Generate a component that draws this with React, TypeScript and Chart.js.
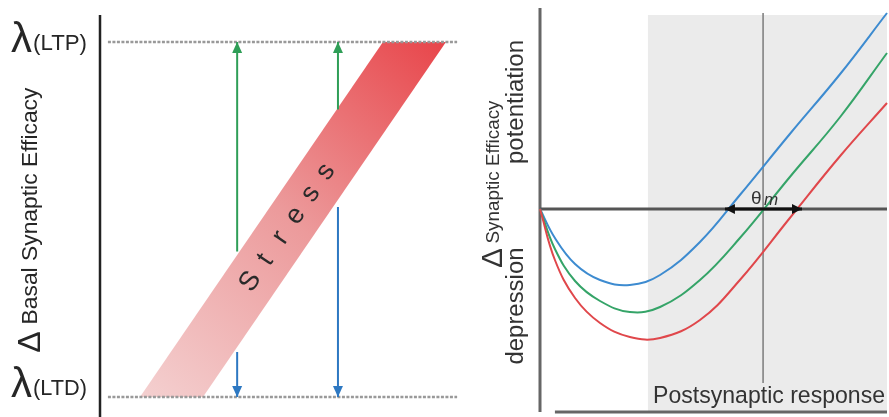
import React, { useEffect, useRef } from "react";
import { Chart, registerables } from "chart.js";
Chart.register(...registerables);

const FONT = "'Liberation Sans', Arial, sans-serif";

// ---------- Left panel data ----------
const LEVEL_VALUES = [1, 0]; // λ(LTP), λ(LTD)
const LEVEL_NAMES = ["(LTP)", "(LTD)"];
const DOTTED_X = [0.22, 9.92];
const BAND_BOTTOM_X = [1.11, 2.86];
const BAND_TOP_X = [7.86, 9.61];
const ARROW_X = [3.81, 6.61];
const GREEN_FROM = [0.41, 0.81];
const BLUE_FROM = [0.127, 0.535];
const STRESS_TEXT = "Stress";
const LEFT_TITLE = "Basal Synaptic Efficacy";

// ---------- Right panel data ----------
const CURVE_X = [0, 0.43, 1.01, 1.73, 2.59, 3.46, 4.61, 5.76, 7.2, 8.65, 10];
const BLUE_Y = [0, -0.29, -0.55, -0.71, -0.76, -0.66, -0.33, 0.14, 0.75, 1.35, 1.96];
const GREEN_Y = [0, -0.4, -0.72, -0.92, -1.03, -0.98, -0.71, -0.29, 0.32, 0.92, 1.56];
const RED_Y = [0, -0.51, -0.89, -1.14, -1.28, -1.29, -1.11, -0.71, -0.09, 0.53, 1.06];
const SHADE_RANGE = [3.11, 10];
const SHADE_TOP = 1.94;
const THETA_M = 6.43;
const THETA_LINE_Y = [1.96, -1.74];
const THETA_ARROW_X = [5.33, 7.55];
const BOTTOM_LINE_X = [0.43, 10];
const RIGHT_TITLE = "Synaptic Efficacy";
const UP_LABEL = "potentiation";
const DOWN_LABEL = "depression";
const X_LABEL = "Postsynaptic response";

const pts = (xs: number[], ys: number[]) => xs.map((x, i) => ({ x, y: ys[i] }));

function fitSize(ctx: CanvasRenderingContext2D, text: string, width: number, style = "") {
  ctx.font = `${style ? style + " " : ""}100px ${FONT}`;
  return (100 * width) / ctx.measureText(text).width;
}

function drawArrowHead(ctx: CanvasRenderingContext2D, tip: any, from: any, color: string, len: number, half: number) {
  const a = Math.atan2(tip.y - from.y, tip.x - from.x);
  ctx.save();
  ctx.translate(tip.x, tip.y);
  ctx.rotate(a);
  ctx.fillStyle = color;
  ctx.beginPath();
  ctx.moveTo(0, 0);
  ctx.lineTo(-len, -half);
  ctx.lineTo(-len, half);
  ctx.closePath();
  ctx.fill();
  ctx.restore();
}

const arrowPlugin = {
  id: "arrowHeads",
  afterDatasetsDraw(chart: any) {
    const ctx = chart.ctx;
    chart.data.datasets.forEach((ds: any, i: number) => {
      const m = chart.getDatasetMeta(i).data;
      if (!m || m.length < 2) return;
      if (ds.arrowEnd) drawArrowHead(ctx, m[m.length - 1], m[m.length - 2], ds.borderColor, ds.arrowLen, ds.arrowHalf);
      if (ds.arrowStart) drawArrowHead(ctx, m[0], m[1], ds.borderColor, ds.arrowLen, ds.arrowHalf);
    });
  },
};

function rotatedText(ctx: CanvasRenderingContext2D, text: string, cy: number, baseX: number, size: number) {
  ctx.save();
  ctx.translate(baseX, cy);
  ctx.rotate(-Math.PI / 2);
  ctx.font = `${size}px ${FONT}`;
  ctx.textAlign = "center";
  ctx.textBaseline = "alphabetic";
  ctx.fillText(text, 0, 0);
  ctx.restore();
}

const leftText = {
  id: "leftText",
  afterDraw(chart: any) {
    const ctx: CanvasRenderingContext2D = chart.ctx;
    const xs = chart.scales.x;
    const ys = chart.scales.y;
    ctx.save();
    ctx.fillStyle = "#262626";
    // λ labels
    LEVEL_VALUES.forEach((v, i) => {
      const base = ys.getPixelForValue(v) + (i === 0 ? 8 : -2);
      ctx.textAlign = "left";
      ctx.textBaseline = "alphabetic";
      ctx.font = `${fitSize(ctx, "λ", 21)}px ${FONT}`;
      ctx.fillText("λ", 11, base + 2);
      ctx.font = `${fitSize(ctx, LEVEL_NAMES[i], 54)}px ${FONT}`;
      ctx.fillText(LEVEL_NAMES[i], 33, base);
    });
    // y title
    rotatedText(ctx, LEFT_TITLE, 206, 37, fitSize(ctx, LEFT_TITLE, 237));
    rotatedText(ctx, "Δ", 342, 40, 32);
    // Stress text along band
    const p0x = xs.getPixelForValue((BAND_BOTTOM_X[0] + BAND_BOTTOM_X[1]) / 2);
    const p0y = ys.getPixelForValue(0);
    const p1x = xs.getPixelForValue((BAND_TOP_X[0] + BAND_TOP_X[1]) / 2);
    const p1y = ys.getPixelForValue(1);
    const ang = Math.atan2(p1y - p0y, p1x - p0x);
    const t = 0.48;
    const cx = p0x + (p1x - p0x) * t;
    const cy = p0y + (p1y - p0y) * t;
    const step = 26.6;
    ctx.fillStyle = "#2a2a2a";
    ctx.font = `27px ${FONT}`;
    ctx.textAlign = "center";
    ctx.textBaseline = "middle";
    const n = STRESS_TEXT.length;
    for (let k = 0; k < n; k++) {
      const d = (k - (n - 1) / 2) * step;
      ctx.save();
      ctx.translate(cx + Math.cos(ang) * d, cy + Math.sin(ang) * d);
      ctx.rotate(ang);
      ctx.fillText(STRESS_TEXT[k], 0, 0);
      ctx.restore();
    }
    ctx.restore();
  },
};

const rightDecor = {
  id: "rightDecor",
  beforeDatasetsDraw(chart: any) {
    const ctx: CanvasRenderingContext2D = chart.ctx;
    const xs = chart.scales.x;
    const ys = chart.scales.y;
    const x0 = xs.getPixelForValue(SHADE_RANGE[0]);
    const x1 = xs.getPixelForValue(SHADE_RANGE[1]);
    const y0 = ys.getPixelForValue(SHADE_TOP);
    const y1 = chart.chartArea.bottom;
    ctx.save();
    ctx.fillStyle = "#ebebeb";
    ctx.fillRect(x0, y0, x1 - x0, y1 - y0);
    ctx.restore();
  },
  afterDraw(chart: any) {
    const ctx: CanvasRenderingContext2D = chart.ctx;
    const xs = chart.scales.x;
    const ys = chart.scales.y;
    ctx.save();
    ctx.fillStyle = "#333";
    rotatedText(ctx, RIGHT_TITLE, 172, 39, fitSize(ctx, RIGHT_TITLE, 143));
    rotatedText(ctx, "Δ", 258, 42, 30);
    rotatedText(ctx, UP_LABEL, 102, 63, fitSize(ctx, UP_LABEL, 124));
    rotatedText(ctx, DOWN_LABEL, 306, 63, fitSize(ctx, DOWN_LABEL, 117));
    // x label
    ctx.font = `${fitSize(ctx, X_LABEL, 232)}px ${FONT}`;
    ctx.textAlign = "right";
    ctx.textBaseline = "alphabetic";
    ctx.fillText(X_LABEL, xs.getPixelForValue(10) - 2, 403);
    // theta m
    const tx = xs.getPixelForValue(THETA_M);
    const ty = ys.getPixelForValue(0) - 5;
    ctx.textAlign = "left";
    ctx.font = `19px ${FONT}`;
    ctx.fillText("θ", tx - 12, ty);
    ctx.font = `italic 17px ${FONT}`;
    ctx.fillText("m", tx + 1, ty + 1);
    ctx.restore();
  },
};

function LeftPanel() {
  const ref = useRef<HTMLCanvasElement>(null);
  useEffect(() => {
    const bandGradient = (c: any) => {
      const chart = c.chart;
      if (!chart.chartArea) return "rgba(0,0,0,0)";
      const xs = chart.scales.x;
      const ys = chart.scales.y;
      const g = chart.ctx.createLinearGradient(
        xs.getPixelForValue(BAND_BOTTOM_X[0]), ys.getPixelForValue(0),
        xs.getPixelForValue(BAND_TOP_X[1]), ys.getPixelForValue(1)
      );
      g.addColorStop(0, "#f4d0d0");
      g.addColorStop(0.5, "#ec9a9b");
      g.addColorStop(1, "#e8454a");
      return g;
    };
    const arrow = (x: number, from: number, to: number, color: string) => ({
      data: [{ x, y: from }, { x, y: to }],
      borderColor: color,
      borderWidth: 2,
      pointRadius: 0,
      arrowEnd: true,
      arrowLen: 11,
      arrowHalf: 5,
      order: 1,
      clip: false,
    });
    const dotted = (y: number) => ({
      data: [{ x: DOTTED_X[0], y }, { x: DOTTED_X[1], y }],
      borderColor: "#999999",
      borderWidth: 2.5,
      borderDash: [3, 1.5],
      pointRadius: 0,
      order: 2,
      clip: false,
    });
    const chart = new Chart(ref.current as HTMLCanvasElement, {
      type: "line",
      data: {
        datasets: [
          {
            data: [
              { x: BAND_BOTTOM_X[0], y: 0 },
              { x: BAND_TOP_X[0], y: 1 },
              { x: BAND_TOP_X[1], y: 1 },
              { x: BAND_BOTTOM_X[1], y: 0 },
            ],
            fill: "shape",
            backgroundColor: bandGradient,
            borderColor: "rgba(0,0,0,0)",
            borderWidth: 0,
            pointRadius: 0,
            tension: 0,
            order: 10,
          },
          dotted(LEVEL_VALUES[0]),
          dotted(LEVEL_VALUES[1]),
          arrow(ARROW_X[0], GREEN_FROM[0], LEVEL_VALUES[0], "#2f9e57"),
          arrow(ARROW_X[1], GREEN_FROM[1], LEVEL_VALUES[0], "#2f9e57"),
          arrow(ARROW_X[0], BLUE_FROM[0], LEVEL_VALUES[1], "#2d78c2"),
          arrow(ARROW_X[1], BLUE_FROM[1], LEVEL_VALUES[1], "#2d78c2"),
          {
            data: [{ x: 0, y: -0.06 }, { x: 0, y: 1.076 }],
            borderColor: "#222",
            borderWidth: 2.5,
            pointRadius: 0,
            order: 0,
            clip: false,
          },
        ] as any,
      },
      options: {
        animation: false,
        responsive: false,
        events: [],
        layout: { padding: { left: 100, right: 0, top: 15, bottom: 0 } },
        scales: {
          x: { type: "linear", min: 0, max: 10, display: false },
          y: { type: "linear", min: -0.056, max: 1.076, display: false },
        },
        plugins: { legend: { display: false }, tooltip: { enabled: false } },
      },
      plugins: [arrowPlugin, leftText],
    });
    return () => chart.destroy();
  }, []);
  return <canvas ref={ref} width={460} height={417} style={{ display: "block" }} />;
}

function RightPanel() {
  const ref = useRef<HTMLCanvasElement>(null);
  useEffect(() => {
    const curve = (ys: number[], color: string) => ({
      data: pts(CURVE_X, ys),
      borderColor: color,
      borderWidth: 2,
      pointRadius: 0,
      tension: 0.4,
      order: 2,
      clip: false,
    });
    const line = (data: any[], color: string, width: number, order: number) => ({
      data,
      borderColor: color,
      borderWidth: width,
      pointRadius: 0,
      order,
      clip: false,
    });
    const chart = new Chart(ref.current as HTMLCanvasElement, {
      type: "line",
      data: {
        datasets: [
          line([{ x: THETA_M, y: THETA_LINE_Y[0] }, { x: THETA_M, y: THETA_LINE_Y[1] }], "#8a8a8a", 1, 6),
          line([{ x: 0, y: 0 }, { x: 10, y: 0 }], "#555", 3, 5),
          line([{ x: 0, y: 2.01 }, { x: 0, y: -2.03 }], "#666", 3, 5),
          line([{ x: BOTTOM_LINE_X[0], y: -2.03 }, { x: BOTTOM_LINE_X[1], y: -2.03 }], "#666", 3, 5),
          curve(RED_Y, "#e0474b"),
          curve(GREEN_Y, "#35a468"),
          curve(BLUE_Y, "#3d8bd0"),
          {
            ...line([{ x: THETA_ARROW_X[0], y: 0 }, { x: THETA_ARROW_X[1], y: 0 }], "#111", 3, 0),
            arrowStart: true,
            arrowEnd: true,
            arrowLen: 10,
            arrowHalf: 5,
          },
        ] as any,
      },
      options: {
        animation: false,
        responsive: false,
        events: [],
        layout: { padding: { left: 80, right: 2, top: 8, bottom: 5 } },
        scales: {
          x: { type: "linear", min: 0, max: 10, display: false },
          y: { type: "linear", min: -2.03, max: 2.01, display: false },
        },
        plugins: { legend: { display: false }, tooltip: { enabled: false } },
      },
      plugins: [rightDecor, arrowPlugin],
    });
    return () => chart.destroy();
  }, []);
  return <canvas ref={ref} width={429} height={417} style={{ display: "block" }} />;
}

export default function App() {
  return (
    <div
      style={{
        position: "absolute",
        left: 0,
        top: 0,
        width: 889,
        height: 417,
        display: "flex",
        background: "#fff",
      }}
    >
      <LeftPanel />
      <RightPanel />
    </div>
  );
}
